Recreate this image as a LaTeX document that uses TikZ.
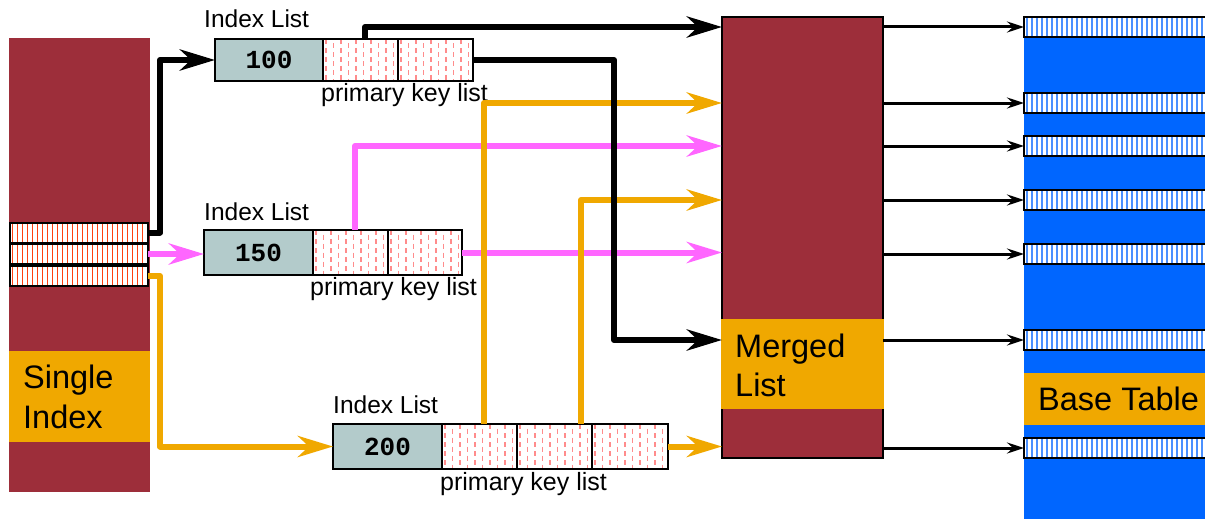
\documentclass[tikz,border=0pt]{standalone}
\usepackage{fontspec}
\setmainfont{Liberation Sans}
\setmonofont{Liberation Mono}
\usetikzlibrary{arrows.meta,calc}
\definecolor{dred}{HTML}{9D2E3A}
\definecolor{gold}{HTML}{F0A800}
\definecolor{tealg}{HTML}{B3CBCB}
\definecolor{bblue}{HTML}{0066FF}
\definecolor{lblue}{HTML}{4A90FF}
\definecolor{pinkar}{HTML}{FF66FF}
\definecolor{dashpink}{HTML}{FF8C8C}
\definecolor{stred}{HTML}{FF4010}
\tikzset{
  fillbox/.style={draw=none, inner sep=0pt, outer sep=0pt},
  redrow/.style={draw=black, line width=2pt, fill=white, inner sep=0pt, outer sep=0pt,
    minimum width=138pt, minimum height=20pt,
    path picture={\foreach \i in {0,...,27}{\draw[stred,line width=1.7pt]
      ([xshift=\i*5pt+2.5pt]path picture bounding box.north west) --
      ([xshift=\i*5pt+2.5pt]path picture bounding box.south west);}}},
  bluerow/.style={draw=black, line width=2pt, fill=white, inner sep=0pt, outer sep=0pt,
    minimum width=182pt, minimum height=20pt,
    path picture={\foreach \i in {0,...,37}{\draw[lblue,line width=2pt]
      ([xshift=\i*5pt+2.5pt]path picture bounding box.north west) --
      ([xshift=\i*5pt+2.5pt]path picture bounding box.south west);}}},
  gcell/.style={draw=black, line width=1.5pt, fill=tealg, inner sep=0pt, outer sep=0pt,
    font=\ttfamily\bfseries\fontsize{26}{28}\selectfont},
  dcell/.style={draw=black, line width=1.5pt, fill=white, inner sep=0pt, outer sep=0pt,
    path picture={\foreach \i [evaluate=\i as \ph using {mod(\i,2)*4.5}] in {0,...,10}{
      \draw[dashpink,line width=1.1pt,dash pattern=on 5pt off 4pt,dash phase=\ph]
      ([xshift=\i*7.5pt+3pt]path picture bounding box.north west) --
      ([xshift=\i*7.5pt+3pt]path picture bounding box.south west);}}},
  lbl/.style={anchor=base west, inner sep=0pt, font=\fontsize{24.5}{28}\selectfont},
  pkl/.style={anchor=base west, inner sep=0pt, font=\fontsize{25}{28}\selectfont},
  bigtext/.style={anchor=base west, inner sep=0pt, font=\fontsize{32.5}{40}\selectfont},
  blk/.style={draw=black, line width=6pt, line join=round, -{Stealth[length=35pt,width=21pt,inset=11pt]}},
  pk/.style={draw=pinkar, line width=6pt, line join=round, -{Stealth[length=35pt,width=21pt,inset=11pt]}},
  org/.style={draw=gold, line width=6pt, line join=round, -{Stealth[length=35pt,width=21pt,inset=11pt]}},
  thinar/.style={draw=black, line width=3pt, -{Stealth[length=17pt,width=11pt,inset=6pt]}},
}
\begin{document}
\begin{tikzpicture}[x=1pt,y=-1pt]
\useasboundingbox (0,0) rectangle (1205,519);

% Single index
\node[fillbox, fill=dred, minimum width=141pt, minimum height=454pt] (si) at (79.5,265) {};
\node[fillbox, fill=gold, minimum width=141pt, minimum height=91pt] (siband) at (79.5,396.5) {};
\node[bigtext] (sit1) at (23,388) {Single};
\node[bigtext] (sit2) at (23,428) {Index};
\node[redrow] (r1) at (79,232.5) {};
\node[redrow] (r2) at (79,254) {};
\node[redrow] (r3) at (79,276) {};

% Merged list
\node[fillbox, draw=black, line width=1.5pt, fill=dred, minimum width=161pt, minimum height=441pt] (ml) at (802.5,237.5) {};
\node[fillbox, fill=gold, minimum width=163pt, minimum height=90pt] (mlband) at (802.5,364) {};
\node[bigtext] (mlt1) at (735,357) {Merged};
\node[bigtext] (mlt2) at (735,396) {List};

% Base table
\node[fillbox, fill=bblue, minimum width=181pt, minimum height=503pt] (bt) at (1114.5,267.5) {};
\node[fillbox, fill=gold, minimum width=181pt, minimum height=52pt] (btband) at (1114.5,399) {};
\node[bigtext] (btt) at (1038,410) {Base Table};
\foreach \n/\y in {1/27,2/103,3/146,4/200,5/254,6/340,7/448}
  \node[bluerow] (bt\n) at (1115,\y) {};

% Index list 1
\node[gcell, minimum width=108pt, minimum height=42pt] (b1g) at (269,60) {100};
\node[dcell, minimum width=75pt, minimum height=42pt] (b1a) at (360.5,60) {};
\node[dcell, minimum width=75pt, minimum height=42pt] (b1b) at (435.5,60) {};
\node[lbl] (l1) at (204,28) {Index List};
\node[pkl] (p1) at (321,101) {primary key list};

% Index list 2
\node[gcell, minimum width=109pt, minimum height=45pt] (b2g) at (258.5,252.5) {150};
\node[dcell, minimum width=75pt, minimum height=45pt] (b2a) at (350.5,252.5) {};
\node[dcell, minimum width=74pt, minimum height=45pt] (b2b) at (425,252.5) {};
\node[lbl] (l2) at (204,220) {Index List};
\node[pkl] (p2) at (310,295) {primary key list};

% Index list 3
\node[gcell, minimum width=109pt, minimum height=45pt] (b3g) at (387.5,446.5) {200};
\node[dcell, minimum width=75pt, minimum height=45pt] (b3a) at (479.5,446.5) {};
\node[dcell, minimum width=75pt, minimum height=45pt] (b3b) at (554.5,446.5) {};
\node[dcell, minimum width=76pt, minimum height=45pt] (b3c) at (630,446.5) {};
\node[lbl] (l3) at (333,413) {Index List};
\node[pkl] (p3) at (440,490) {primary key list};

% pink connectors
\draw[pk] (r2.east) -- (r2.east -| b2g.west);
\draw[pk] ([xshift=42pt]b2a.north west) |- (ml.west |- bt3.west);
\draw[pk] (b2b.east) -- (ml.west |- b2b.east);

% orange connectors
\draw[org] (r3.east) -- ([xshift=12pt]r3.east) |- (b3g.west);
\draw[org] ([xshift=42pt]b3a.north west) |- (ml.west |- bt2.west);
\draw[org] ([xshift=64pt]b3b.north west) |- (ml.west |- bt4.west);
\draw[org] (b3c.east) -- (ml.west |- b3c.east);

% black connectors
\draw[blk] (r1.east) -- ([xshift=12pt]r1.east) |- (b1g.west);
\draw[blk] ([xshift=42pt]b1a.north west) |- (ml.west |- bt1.west);
\draw[blk] (b1b.east) -- ++(141,0) |- (ml.west |- bt6.west);

% merged -> base table
\foreach \n in {1,...,7}
  \draw[thinar] (ml.east |- bt\n.west) -- (bt\n.west);
\end{tikzpicture}
\end{document}
